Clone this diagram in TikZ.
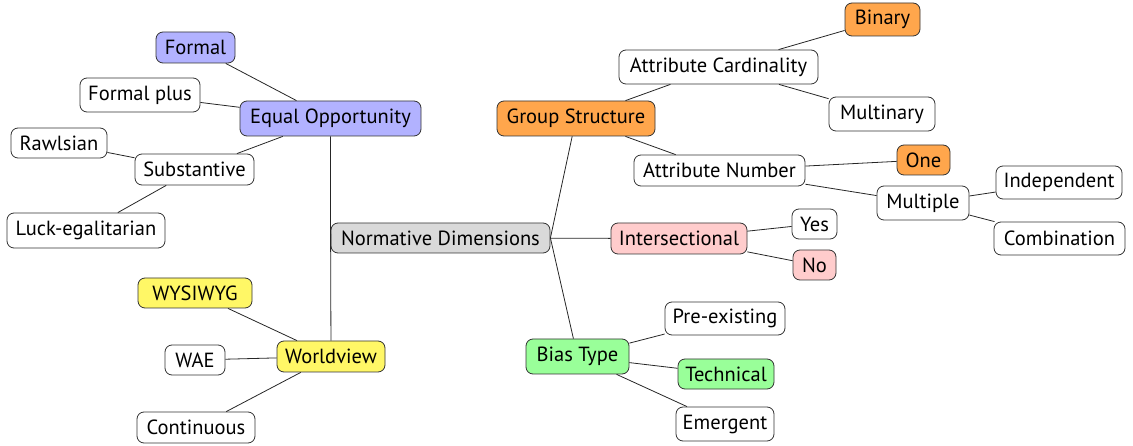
\documentclass[tikz,border=0pt]{standalone}
\usepackage{fontspec}
\setmainfont{PT Sans}
\begin{document}
\begin{tikzpicture}[x=1pt,y=-1pt,
  box/.style={draw=black!80, rounded corners=7pt, line width=0.8pt, inner sep=0pt,
    font=\fontsize{20.5}{24}\selectfont, text=black},
  link/.style={line width=0.8pt, draw=black!85}]
\useasboundingbox (0,0) rectangle (1133,446);
% left branch
\node[box, fill=blue!30, minimum width=79pt, minimum height=31pt] (formal) at (195.5,47.5) {Formal};
\node[box, fill=white, minimum width=120pt, minimum height=34pt] (formalplus) at (140,95) {Formal plus};
\node[box, fill=blue!30, minimum width=181pt, minimum height=35pt] (eo) at (330.5,118.5) {Equal Opportunity};
\node[box, fill=white, minimum width=96pt, minimum height=30pt] (rawls) at (59,143) {Rawlsian};
\node[box, fill=white, minimum width=119pt, minimum height=31pt] (subst) at (194.5,169.5) {Substantive};
\node[box, fill=white, minimum width=158pt, minimum height=35pt] (luck) at (86,230.5) {Luck-egalitarian};
% root
\node[box, fill=gray!30, minimum width=219pt, minimum height=30pt] (root) at (440.5,238) {Normative Dimensions};
% group structure
\node[box, fill=orange!70, minimum width=158pt, minimum height=35pt] (gs) at (576,118.5) {Group Structure};
\node[box, fill=white, minimum width=199pt, minimum height=34pt] (ac) at (718.5,67) {Attribute Cardinality};
\node[box, fill=orange!70, minimum width=75pt, minimum height=33pt] (binary) at (882.5,19.5) {Binary};
\node[box, fill=white, minimum width=106pt, minimum height=34pt] (multinary) at (882,114) {Multinary};
\node[box, fill=white, minimum width=171pt, minimum height=31pt] (an) at (719.5,170.5) {Attribute Number};
\node[box, fill=orange!70, minimum width=53pt, minimum height=30pt] (one) at (923.5,160) {One};
\node[box, fill=white, minimum width=92pt, minimum height=34pt] (multiple) at (923,203) {Multiple};
\node[box, fill=white, minimum width=126pt, minimum height=33pt] (indep) at (1059,182.5) {Independent};
\node[box, fill=white, minimum width=131pt, minimum height=33pt] (comb) at (1059.5,238.5) {Combination};
% intersectional
\node[box, fill=red!20, minimum width=136pt, minimum height=31pt] (inter) at (679,238.5) {Intersectional};
\node[box, fill=white, minimum width=45pt, minimum height=30pt] (yes) at (814.5,224) {Yes};
\node[box, fill=red!20, minimum width=43pt, minimum height=30pt] (no) at (814.5,265) {No};
% bias type
\node[box, fill=green!40, minimum width=103pt, minimum height=35pt] (bias) at (577.5,356.5) {Bias Type};
\node[box, fill=white, minimum width=120pt, minimum height=33pt] (pre) at (725,318.5) {Pre-existing};
\node[box, fill=green!40, minimum width=96pt, minimum height=30pt] (tech) at (726,374) {Technical};
\node[box, fill=white, minimum width=98pt, minimum height=34pt] (emer) at (725,424) {Emergent};
% worldview
\node[box, fill=yellow!60, minimum width=108pt, minimum height=31pt] (wv) at (331,356.5) {Worldview};
\node[box, fill=yellow!60, minimum width=114pt, minimum height=30pt] (wys) at (195,293) {WYSIWYG};
\node[box, fill=white, minimum width=60pt, minimum height=30pt] (wae) at (195,360) {WAE};
\node[box, fill=white, minimum width=118pt, minimum height=31pt] (cont) at (196,427.5) {Continuous};
% links
\draw[link] (root.west) -- (eo);
\draw[link] (root.west) -- (wv);
\draw[link] (root.east) -- (gs);
\draw[link] (root) -- (inter);
\draw[link] (root.east) -- (bias);
\draw[link] (eo) -- (formal);
\draw[link] (eo) -- (formalplus);
\draw[link] (eo) -- (subst);
\draw[link] (subst) -- (rawls);
\draw[link] (subst) -- (luck);
\draw[link] (gs) -- (ac);
\draw[link] (gs) -- (an);
\draw[link] (ac) -- (binary);
\draw[link] (ac) -- (multinary);
\draw[link] (an) -- (one);
\draw[link] (an) -- (multiple);
\draw[link] (multiple) -- (indep);
\draw[link] (multiple) -- (comb);
\draw[link] (inter) -- (yes);
\draw[link] (inter) -- (no);
\draw[link] (bias) -- (pre);
\draw[link] (bias) -- (tech);
\draw[link] (bias) -- (emer);
\draw[link] (wv) -- (wys);
\draw[link] (wv) -- (wae);
\draw[link] (wv) -- (cont);
\end{tikzpicture}
\end{document}
